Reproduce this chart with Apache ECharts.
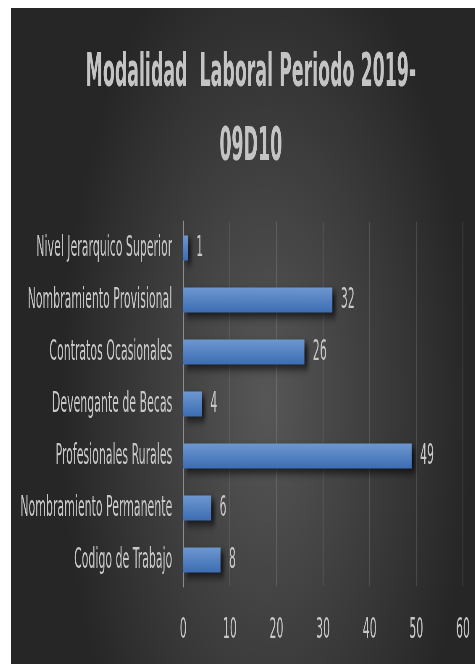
<!DOCTYPE html>
<html>
<head>
<meta charset="utf-8">
<script src="https://cdn.jsdelivr.net/npm/echarts@6/dist/echarts.min.js"></script>
<style>
  html, body { margin: 0; padding: 0; background: #fff; overflow: hidden; }
  /* el grafico original esta comprimido a lo ancho: se dibuja mas ancho y se escala */
  #chart {
    position: absolute;
    left: 11px;
    top: 8px;
    width: 1105px;
    height: 656px;
    transform: scaleX(0.42);
    transform-origin: 0 0;
  }
</style>
</head>
<body>
<div id="chart"></div>
<script>
  // datos
  const titleText = 'Modalidad  Laboral Periodo 2019-\n09D10'
  const categories = [
    'Nivel Jerarquico Superior',
    'Nombramiento Provisional',
    'Contratos Ocasionales',
    'Devengante de Becas',
    'Profesionales Rurales',
    'Nombramiento Permanente',
    'Codigo de Trabajo'
  ]
  const values = [1, 32, 26, 4, 49, 6, 8]
  const axisMin = 0
  const axisMax = 60
  const axisStep = 10

  const font = "'Liberation Sans Narrow', 'DejaVu Sans Condensed', sans-serif"
  const textGrey = '#c8c8c8'

  var myChart = echarts.init(document.getElementById('chart'))
  var option = {
    backgroundColor: {
      type: 'radial',
      x: 0.55,
      y: 0.6,
      r: 0.75,
      colorStops: [
        {offset: 0, color: '#575757'},
        {offset: 1, color: '#262626'}
      ]
    },
    title: {
      text: titleText,
      left: 566,
      top: 24,
      textAlign: 'center',
      textStyle: {
        color: '#c4c4c4',
        fontFamily: font,
        fontWeight: 'bold',
        fontSize: 46,
        lineHeight: 74
      }
    },
    grid: {
      left: 410,
      right: 29,
      top: 214,
      bottom: 78,
      outerBoundsMode: 'none'
    },
    xAxis: {
      type: 'value',
      min: axisMin,
      max: axisMax,
      interval: axisStep,
      axisLine: {show: false},
      axisTick: {show: false},
      axisLabel: {
        color: textGrey,
        fontFamily: font,
        fontSize: 29,
        margin: 30
      },
      splitLine: {
        lineStyle: {color: 'rgba(255,255,255,0.13)', width: 2}
      }
    },
    yAxis: {
      type: 'category',
      inverse: true,
      data: categories,
      axisLine: {lineStyle: {color: '#8c8c8c', width: 3}},
      axisTick: {show: false},
      axisLabel: {
        color: textGrey,
        fontFamily: font,
        fontSize: 29,
        margin: 26
      }
    },
    series: [
      {
        type: 'bar',
        data: values,
        barWidth: 25,
        itemStyle: {
          color: {
            type: 'linear', x: 0, y: 0, x2: 0, y2: 1,
            colorStops: [
              {offset: 0, color: '#6d97d0'},
              {offset: 1, color: '#3c6db3'}
            ]
          },
          shadowColor: 'rgba(0,0,0,0.65)',
          shadowBlur: 8,
          shadowOffsetX: 8,
          shadowOffsetY: 4
        },
        label: {
          show: true,
          position: 'right',
          distance: 20,
          color: textGrey,
          fontFamily: font,
          fontSize: 29
        }
      }
    ]
  }
  myChart.setOption(option, true)
</script>
</body>
</html>
